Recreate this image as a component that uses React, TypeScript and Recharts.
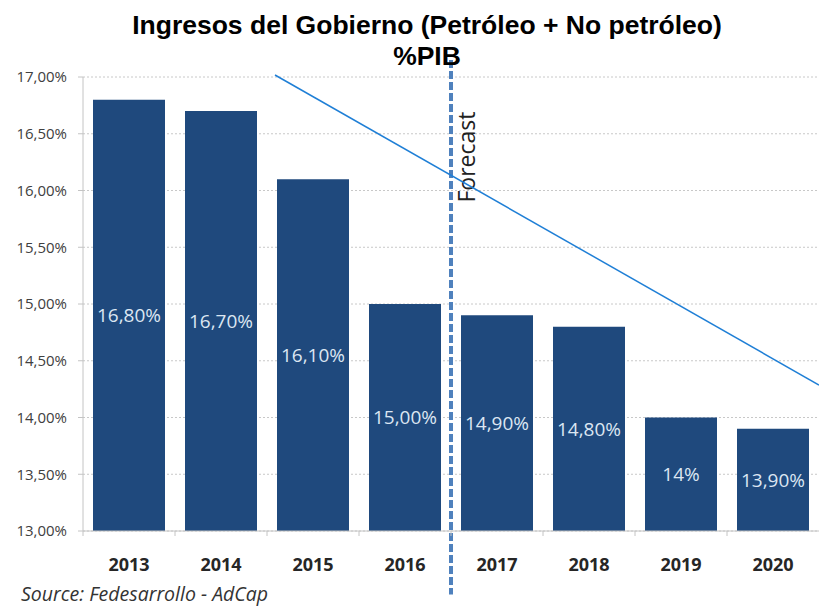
import { BarChart, Bar, XAxis, YAxis, CartesianGrid, ReferenceLine, LabelList } from 'recharts'

const years = ['2013', '2014', '2015', '2016', '2017', '2018', '2019', '2020']
const ingresos = [16.8, 16.7, 16.1, 15.0, 14.9, 14.8, 14.0, 13.9]
const barLabels = ['16,80%', '16,70%', '16,10%', '15,00%', '14,90%', '14,80%', '14%', '13,90%']
const yTicks = [13, 13.5, 14, 14.5, 15, 15.5, 16, 16.5, 17]

// forecast split drawn at the start of the 2017 band
const forecastYear = '2017'
const forecastSpan = [17.15, 12.44]
// trend line anchored at the start of the 2015 and 2020 bands
const trendAnchors = [
  { x: '2015', y: 17.058 },
  { x: '2020', y: 14.748 },
]
const trendRange = [0.0174, 1.2]

const data = years.map((year, i) => ({ year, value: ingresos[i], label: barLabels[i] }))

const fmtPct = (v: number) => v.toFixed(2).replace('.', ',') + '%'

const YearTick = (props: any) => {
  const { x, y, payload } = props
  const half = payload?.offset ?? 46
  return (
    <g>
      <line x1={x - half} x2={x - half} y1={y} y2={y + 5} stroke="#c4c4c4" />
      <text
        x={x}
        y={y + 27}
        dy="0.71em"
        textAnchor="middle"
        fill="#262626"
        fontFamily="'Open Sans', sans-serif"
        fontWeight={700}
        fontSize={18}
      >
        {payload.value}
      </text>
    </g>
  )
}

const ForecastLabel = (props: any) => {
  const vb = props.viewBox || {}
  const cx = (vb.x ?? 452) + 15
  const cy = 157
  return (
    <text
      x={cx}
      y={cy}
      transform={`rotate(-90, ${cx}, ${cy})`}
      textAnchor="middle"
      dominantBaseline="central"
      fill="#222"
      fontFamily="'Open Sans', sans-serif"
      fontSize={23}
    >
      Forecast
    </text>
  )
}

const TrendShape = (props: any) => {
  const { x1, y1, x2, y2 } = props
  const at = (t: number) => [x1 + (x2 - x1) * t, y1 + (y2 - y1) * t]
  const [sx, sy] = at(trendRange[0])
  const [ex, ey] = at(trendRange[1])
  return <line x1={sx} y1={sy} x2={ex} y2={ey} stroke="#1f7fd6" strokeWidth={1.5} />
}

export default function App() {
  return (
    <div style={{ position: 'absolute', left: 0, top: 0, width: 819, height: 610, background: '#fff' }}>
      <BarChart
        width={819}
        height={610}
        data={data}
        margin={{ top: 77, right: 0, left: 0, bottom: 49 }}
      >
        <CartesianGrid vertical={false} stroke="#c8c8c8" strokeDasharray="2 2" />
        <XAxis
          dataKey="year"
          height={30}
          tickLine={false}
          tickSize={0}
          tickMargin={0}
          axisLine={{ stroke: '#c4c4c4' }}
          tick={<YearTick />}
          interval={0}
        />
        <YAxis
          width={83}
          domain={[13, 17]}
          ticks={yTicks}
          interval={0}
          tickFormatter={fmtPct}
          tickSize={5}
          tickMargin={11}
          axisLine={{ stroke: '#c4c4c4' }}
          tickLine={{ stroke: '#c4c4c4' }}
          tick={{ fill: '#404040', fontSize: 15, fontFamily: "'Open Sans', sans-serif" }}
        />
        <Bar dataKey="value" fill="#1f497d" barSize={72} isAnimationActive={false}>
          <LabelList
            dataKey="label"
            position="center"
            fill="#dce6f2"
            fontSize={19}
            fontFamily="'Open Sans', sans-serif"
          />
        </Bar>
        <ReferenceLine
          segment={[
            { x: forecastYear, y: forecastSpan[0] },
            { x: forecastYear, y: forecastSpan[1] },
          ]}
          position="start"
          stroke="#4f81bd"
          strokeWidth={4}
          strokeDasharray="8 3"
          ifOverflow="visible"
          label={<ForecastLabel />}
        />
        <ReferenceLine
          segment={trendAnchors}
          position="start"
          ifOverflow="visible"
          shape={<TrendShape />}
        />
      </BarChart>
      <div
        style={{
          position: 'absolute',
          left: 27,
          top: 10,
          width: 800,
          textAlign: 'center',
          fontFamily: "'Liberation Sans', Arial, sans-serif",
          fontWeight: 700,
          fontSize: 26.5,
          lineHeight: '31px',
          color: '#000',
        }}
      >
        Ingresos del Gobierno (Petróleo + No petróleo)
        <br />
        %PIB
      </div>
      <div
        style={{
          position: 'absolute',
          left: 21,
          top: 583,
          fontFamily: "'Open Sans', sans-serif",
          fontStyle: 'italic',
          fontSize: 19.5,
          lineHeight: '22px',
          color: '#333',
          whiteSpace: 'nowrap',
        }}
      >
        Source: Fedesarrollo - AdCap
      </div>
    </div>
  )
}
